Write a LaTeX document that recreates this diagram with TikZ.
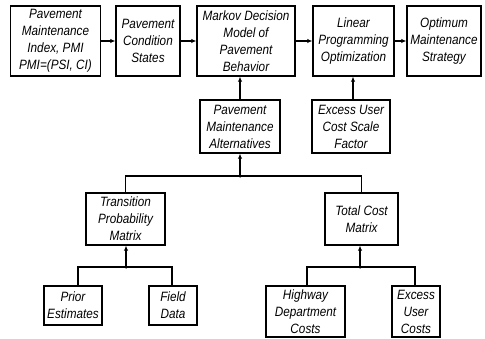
\documentclass[tikz,border=0pt]{standalone}
\usepackage{fontspec}
\setmainfont{Liberation Sans}[FakeStretch=0.87]
\usetikzlibrary{arrows.meta}
\begin{document}
\begin{tikzpicture}[x=1pt,y=-1pt,
  box/.style={draw,line width=1.4pt,inner sep=0pt,align=center,
    font=\fontsize{13.5}{17}\selectfont\itshape},
  conn/.style={line width=1.1pt},
  arr/.style={conn,-{Latex[length=5pt,width=4.5pt]}},
  jdot/.style={circle,fill,inner sep=0pt,minimum size=3.5pt}]
\path[use as bounding box] (0,0) rectangle (485,339);
% top row
\node[box,minimum width=90pt,minimum height=70pt] (pmi) at (55.5,41) {Pavement\\Maintenance\\Index, PMI\\PMI=(PSI, CI)};
\node[box,minimum width=64pt,minimum height=70pt] (pcs) at (148,41) {Pavement\\Condition\\States};
\node[box,minimum width=98pt,minimum height=70pt] (mdm) at (246,41) {Markov Decision\\Model of\\Pavement\\Behavior};
\node[box,minimum width=81pt,minimum height=70pt] (lpo) at (353.5,41) {Linear\\Programming\\Optimization};
\node[box,minimum width=74pt,minimum height=70pt] (oms) at (444,41) {Optimum\\Maintenance\\Strategy};
% middle row
\node[box,minimum width=80pt,minimum height=53pt] (pma) at (240,126.5) {Pavement\\Maintenance\\Alternatives};
\node[box,minimum width=78pt,minimum height=53pt] (eus) at (351,126.5) {Excess User\\Cost Scale\\Factor};
% third row
\node[box,minimum width=79pt,minimum height=52pt] (tpm) at (125.5,219) {Transition\\Probability\\Matrix};
\node[box,minimum width=73pt,minimum height=52pt] (tcm) at (361.5,219) {Total Cost\\Matrix};
% bottom row
\node[box,minimum width=58pt,minimum height=39pt] (pre) at (73,305.5) {Prior\\Estimates};
\node[box,minimum width=48pt,minimum height=39pt] (fld) at (173,305.5) {Field\\Data};
\node[box,minimum width=79pt,minimum height=51pt] (hdc) at (305.5,311.5) {Highway\\Department\\Costs};
\node[box,minimum width=48pt,minimum height=51pt] (euc) at (416,311.5) {Excess\\User\\Costs};
% junctions
\coordinate (jt) at (240,176);
\coordinate (jl) at (126,267);
\coordinate (jr) at (360,267);
\coordinate (pret) at (78,286);
% top arrows
\draw[arr] (pmi) -- (pcs);
\draw[arr] (pcs) -- (mdm);
\draw[arr] (mdm) -- (lpo);
\draw[arr] (lpo) -- (oms);
\draw[arr] (pma.north) -- (pma.north |- mdm.south);
\draw[arr] ([xshift=2pt]eus.north) -- ([xshift=2pt]eus.north |- lpo.south);
% middle tree
\draw[conn] (tpm.north) |- (jt) -| (tcm.north);
\draw[arr] (jt) -- (pma.south);
\node[jdot] (jtd) at (jt) {};
% left tree
\draw[conn] (pret) |- (jl) -| ([xshift=-1pt]fld.north);
\draw[arr] (jl) -- (jl |- tpm.south);
\node[jdot] (jld) at (jl) {};
% right tree
\draw[conn] ([xshift=1.5pt]hdc.north) |- (jr) -| ([xshift=-1pt]euc.north);
\draw[arr] (jr) -- (jr |- tcm.south);
\node[jdot] (jrd) at (jr) {};
\end{tikzpicture}
\end{document}
